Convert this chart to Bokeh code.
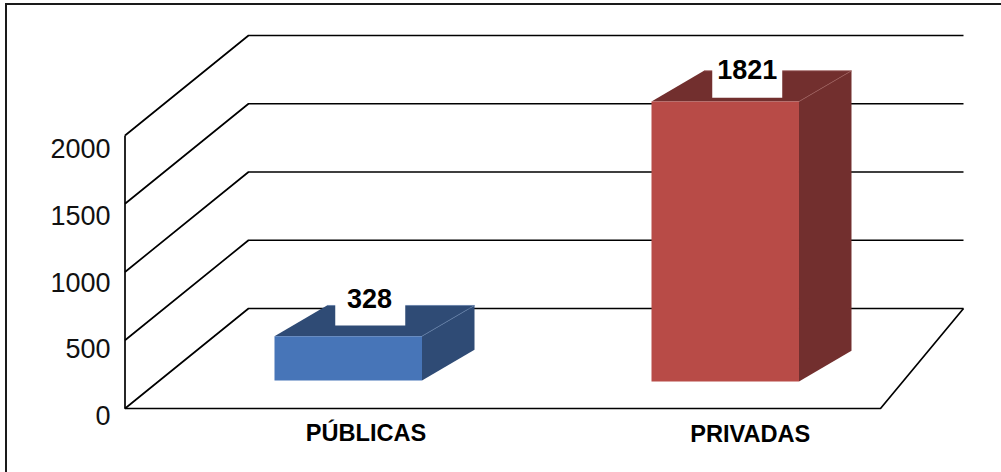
from bokeh.plotting import figure
from bokeh.models import Range1d, LinearAxis, FixedTicker
from bokeh.core.properties import value
from bokeh.embed import file_html
from bokeh.resources import INLINE

# ---- data ----
categories = ["PÚBLICAS", "PRIVADAS"]
category_pos = [0.591, 1.589]
bar_labels = ["328", "1821"]
bar_heights = [325, 2051]      # drawn height against the axis
bar_bases = [205, 198]         # where the front face starts above the floor edge
axis_ticks = [0, 500, 1000, 1500, 2000]
front_colors = ["#4775B8", "#B84B47"]
side_colors = ["#2F4B75", "#722F2E"]
edge_colors = ["#5F7CA6", "#9A5A58"]

# ---- styling / geometry ----
W, H = 1001, 472
FRAME_LEFT = 123
PX_U = 377.75          # pixels per category
PX_V = 0.1365          # pixels per value unit
X0 = 124.5             # pixel of category coordinate 0
Y0 = 408               # pixel of value 0
N_CAT = 2
WALL_DU_LEFT, WALL_DU_RIGHT, WALL_DV = 123.5 / PX_U, 83 / PX_U, 100 / PX_V
BAR_HALF = 147.5 / PX_U / 2
BAR_DU, BAR_DV = 52.5 / PX_U, 30.7 / PX_V

x_range = Range1d((FRAME_LEFT - X0) / PX_U, (W - X0) / PX_U)
y_range = Range1d((Y0 - H) / PX_V, Y0 / PX_V)

p = figure(width=W, height=H, x_range=x_range, y_range=y_range,
           x_axis_location=None, y_axis_location=None,
           toolbar_location=None, output_backend="svg",
           min_border_left=FRAME_LEFT, min_border_right=0,
           min_border_top=0, min_border_bottom=0,
           outline_line_color=None, background_fill_color=None, border_fill_color=None)
p.grid.visible = False
# the picture's outer frame lies outside the plot area: left and top rules only
p.styles = {
    "position": "absolute", "left": "0px", "top": "0px",
    "background-color": "white",
    "background-image": "linear-gradient(#1a1a1a,#1a1a1a),linear-gradient(#1a1a1a,#1a1a1a)",
    "background-repeat": "no-repeat",
    "background-position": "5px 3px,5px 3px",
    "background-size": "2px 100%,100% 2px",
}

# axis labels have a slightly tighter spacing than the wall grid in the reference
LABEL_ZERO_PX, LABEL_STEP_PX = 415, 66.75 / 500
p.extra_y_ranges["labels"] = Range1d((LABEL_ZERO_PX - H) / LABEL_STEP_PX, LABEL_ZERO_PX / LABEL_STEP_PX)
yaxis = LinearAxis(y_range_name="labels", ticker=FixedTicker(ticks=axis_ticks),
                   axis_line_color=None, major_tick_line_color=None, minor_tick_line_color=None,
                   major_label_standoff=13, major_tick_in=0, major_tick_out=0,
                   major_label_text_font="Liberation Sans", major_label_text_font_size="27px",
                   major_label_text_color="#111111")
p.add_layout(yaxis, "left")

# walls and floor
LINE = dict(line_color="black", line_width=1.7)
u_right = float(N_CAT)
for v in axis_ticks:
    p.line([0, WALL_DU_LEFT, u_right + WALL_DU_RIGHT], [v, v + WALL_DV, v + WALL_DV], **LINE)
p.line([0, 0, u_right, u_right + WALL_DU_RIGHT],
       [axis_ticks[-1], 0, 0, WALL_DV], **LINE)

# bars
for c, h, b, front, side, edge in zip(category_pos, bar_heights, bar_bases, front_colors, side_colors, edge_colors):
    l, r = c - BAR_HALF, c + BAR_HALF
    t = b + h
    p.patch([r, r + BAR_DU, r + BAR_DU, r], [b, b + BAR_DV, t + BAR_DV, t], fill_color=side, line_color=None)
    p.patch([l, r, r + BAR_DU, l + BAR_DU], [t, t, t + BAR_DV, t + BAR_DV], fill_color=side, line_color=None)
    p.quad(left=l, right=r, bottom=b, top=t, fill_color=front, line_color=None)
    p.line([r, r + BAR_DU, l + BAR_DU], [t, t + BAR_DV, t + BAR_DV], line_color=edge, line_width=0.8)

# white tabs behind the value labels, then the labels
tab_half_px = 35
tab_top_px = [17, 14]
tab_bottom_px = [20, 27]
label_dx = [21.3, 22]
label_dy = [-6.7, -1.2]
for c, h, b, txt, tt, tb, dx, dy in zip(category_pos, bar_heights, bar_bases, bar_labels,
                                        tab_top_px, tab_bottom_px, label_dx, label_dy):
    y_top = b + h + BAR_DV
    cx = c + 22 / PX_U
    p.quad(left=cx - tab_half_px / PX_U, right=cx + tab_half_px / PX_U,
           bottom=y_top - tb / PX_V, top=y_top + tt / PX_V,
           fill_color="white", line_color=None)
    p.text(x=[c], y=[y_top], text=[txt], x_offset=dx, y_offset=dy,
           text_align="center", text_baseline="alphabetic",
           text_font=value("Liberation Sans"), text_font_style="bold",
           text_font_size="27px", text_color="black")

cat_dx = [17.75, 25]
cat_dy = [24, 25.7]
for c, name, dx, dy in zip(category_pos, categories, cat_dx, cat_dy):
    p.text(x=[c], y=[0], text=[name], x_offset=dx, y_offset=dy,
           text_align="center", text_baseline="alphabetic",
           text_font=value("Liberation Sans"), text_font_style="bold",
           text_font_size="23.6px", text_color="black")

open("out.html", "w").write(file_html(p, INLINE))
